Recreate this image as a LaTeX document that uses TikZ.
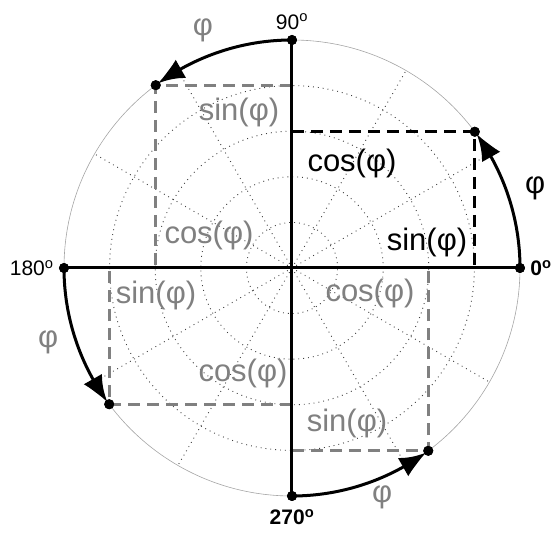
\documentclass[tikz,border=0pt]{standalone}
\usepackage{fontspec}
\setmainfont{Liberation Sans}
\usepackage{tikz}
\usetikzlibrary{arrows.meta,bending,positioning}
\tikzset{
  axis/.style={line width=3pt, black},
  rim/.style={gray!70, line width=0.6pt},
  grid/.style={black!75, line width=0.9pt, dash pattern=on 0.9pt off 4pt},
  proj/.style={line width=3pt, dash pattern=on 12pt off 7pt},
  sweep/.style={-{Latex[length=27pt,width=21pt,bend]}, line width=3pt, shorten >=3pt},
  dot/.style={circle, fill=black, inner sep=0pt, minimum size=10pt},
  note/.style={font=\fontsize{31}{34}\selectfont, inner sep=1pt},
  deg/.style={font=\fontsize{21}{24}\selectfont, inner sep=1pt}
}
\def\Rad{228}
\def\phiang{36.7}
\begin{document}
\begin{tikzpicture}[x=1pt,y=1pt]
  \useasboundingbox (-292,-269) rectangle (260,268);
  % polar grid
  \foreach \r in {0.2,0.4,0.6,0.8}
    \draw[grid] (0,0) circle ({\r*\Rad});
  \foreach \a in {0,30,...,330}
    \draw[grid] (0,0) -- (\a:\Rad);
  \draw[rim] (0,0) circle (\Rad);
  % axis points and rotated points
  \node[dot] (p0) at (0:\Rad) {};
  \node[dot] (p90) at (90:\Rad) {};
  \node[dot] (p180) at (180:\Rad) {};
  \node[dot] (p270) at (270:\Rad) {};
  \foreach \q in {0,1,2,3}
    \node[dot] (q\q) at ({90*\q+\phiang}:\Rad) {};
  % projections
  \draw[proj] (0,0 |- q0) -- (q0.center) -- (q0 |- 0,0);
  \draw[proj, gray] (0,0 |- q1) -- (q1.center) -- (q1 |- 0,0);
  \draw[proj, gray] (0,0 |- q2) -- (q2.center) -- (q2 |- 0,0);
  \draw[proj, gray] (0,0 |- q3) -- (q3.center) -- (q3 |- 0,0);
  % axes
  \draw[axis] (p180.center) -- (p0.center);
  \draw[axis] (p270.center) -- (p90.center);
  % rotation arcs
  \draw[sweep] (p0.center) arc (0:\phiang:\Rad);
  \draw[sweep] (p90.center) arc (90:90+\phiang:\Rad);
  \draw[sweep] (p180.center) arc (180:180+\phiang:\Rad);
  \draw[sweep] (p270.center) arc (270:270+\phiang:\Rad);
  \foreach \n in {p0,p90,p180,p270,q0,q1,q2,q3}
    \node[dot] at (\n) {};
  % angle labels
  \node[deg, above=4pt of p90] (l90) {90\textsuperscript{o}};
  \node[deg, left=4pt of p180] (l180) {180\textsuperscript{o}};
  \node[deg, right=4pt of p0, font=\fontsize{21}{24}\selectfont\bfseries] (l0) {0\textsuperscript{o}};
  \node[deg, below=7pt of p270, font=\fontsize{21}{24}\selectfont\bfseries] (l270) {270\textsuperscript{o}};
  \node[note] (phiA) at (18.2:256) {φ};
  \node[note, gray] (phiB) at (110.5:254) {φ};
  \node[note, gray] (phiC) at (197:255) {φ};
  \node[note, gray] (phiD) at (291.5:246) {φ};
  % sine and cosine labels
  \node[note] (cosA) at (60,105) {cos(φ)};
  \node[note] (sinA) at (135,26) {sin(φ)};
  \node[note, gray] (sinB) at (-53,156) {sin(φ)};
  \node[note, gray] (cosB) at (-83,33) {cos(φ)};
  \node[note, gray] (sinC) at (-136,-27) {sin(φ)};
  \node[note, gray] (cosC) at (-49,-105) {cos(φ)};
  \node[note, gray] (cosD) at (78,-25) {cos(φ)};
  \node[note, gray] (sinD) at (55,-155) {sin(φ)};
\end{tikzpicture}
\end{document}
